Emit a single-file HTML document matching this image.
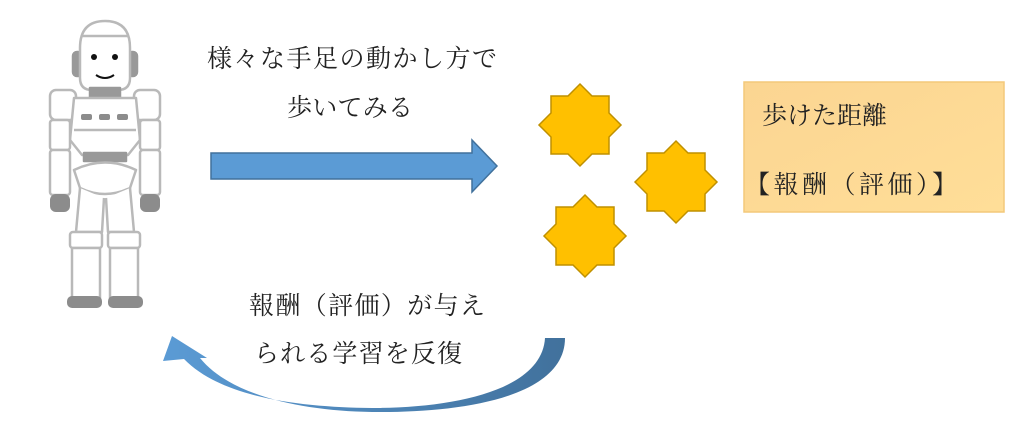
<!DOCTYPE html>
<html><head><meta charset="utf-8"><style>
html,body{margin:0;padding:0;background:#fff;}
svg{display:block}
text{font-family:"Liberation Serif","Noto Serif CJK SC",serif;fill:#222;font-size:25px;}
</style></head><body>
<svg width="1024" height="424" viewBox="0 0 1024 424" xmlns="http://www.w3.org/2000/svg">
<defs>
<linearGradient id="bx" x1="0" y1="0" x2="1" y2="1"><stop offset="0" stop-color="#FBD592"/><stop offset="1" stop-color="#FFDE98"/></linearGradient>
<linearGradient id="ca" x1="0" y1="0" x2="1" y2="0"><stop offset="0" stop-color="#5B9BD5"/><stop offset="1" stop-color="#41719C"/></linearGradient>
</defs>
<!-- robot -->
<g stroke="#b9b9b9" stroke-width="2.5" fill="#fff" stroke-linejoin="round">
<rect x="73" y="52" width="9" height="24" rx="4" fill="#999" stroke="#999"/>
<rect x="128" y="52" width="9" height="24" rx="4" fill="#999" stroke="#999"/>
<path d="M80 48 Q80 21 105 21 Q130 21 130 48 L130 78 Q130 90 118 90 L92 90 Q80 90 80 78 Z"/>
<line x1="82" y1="36" x2="128" y2="36"/>
<rect x="90" y="88" width="30" height="10" fill="#999" stroke="#999"/>
<rect x="50" y="90" width="26" height="30" rx="6"/>
<rect x="134" y="90" width="26" height="30" rx="6"/>
<path d="M74 98 L136 98 L140 140 L128 155 L82 155 L70 140 Z"/>
<line x1="74" y1="130" x2="136" y2="130"/>
<rect x="50" y="120" width="20" height="30" rx="3"/>
<rect x="140" y="120" width="20" height="30" rx="3"/>
<rect x="50" y="150" width="20" height="45" rx="3"/>
<rect x="140" y="150" width="20" height="45" rx="3"/>
<rect x="84" y="153" width="42" height="8" fill="#999" stroke="#999"/>
<path d="M74 170 Q105 155 136 170 L130 188 Q105 200 80 188 Z"/>
<path d="M80 188 L76 232 L102 232 L104 198 M130 188 L134 232 L108 232 L106 198"/>
<rect x="70" y="232" width="32" height="16" rx="3"/>
<rect x="108" y="232" width="32" height="16" rx="3"/>
<rect x="72" y="248" width="28" height="50"/>
<rect x="110" y="248" width="28" height="50"/>
</g>
<g fill="#8c8c8c">
<rect x="50" y="194" width="20" height="18" rx="6"/><rect x="140" y="194" width="20" height="18" rx="6"/>
<rect x="67" y="296" width="35" height="12" rx="5"/><rect x="108" y="296" width="35" height="12" rx="5"/>
<rect x="81" y="114" width="11" height="6" rx="2"/><rect x="99" y="114" width="11" height="6" rx="2"/><rect x="117" y="114" width="11" height="6" rx="2"/>
</g>
<circle cx="94" cy="57" r="3" fill="#111"/><circle cx="115" cy="57" r="3" fill="#111"/>
<path d="M96 75 Q105 81 114 75" stroke="#111" stroke-width="2" fill="none"/>

<!-- texts -->
<text x="207" y="67" textLength="290">様々な手足の動かし方で</text>
<text x="287" y="116" textLength="126">歩いてみる</text>
<text x="249" y="314" textLength="236">報酬（評価）が与え</text>
<text x="254" y="362" textLength="208">られる学習を反復</text>

<!-- straight arrow -->
<path d="M211 153 L472 153 L472 140 L497 166 L472 192 L472 179 L211 179 Z" fill="#5B9BD5" stroke="#41719C" stroke-width="1.5"/>

<!-- curved arrow -->
<path d="M545 338 L565 338 C565 398 460 413 372 412 C300 411 230 395 200 358 L207 358 L172 336 L163 361 L184 359 C222 398 300 407 372 408 C455 408 542 390 545 338 Z" fill="url(#ca)"/>

<!-- stars -->
<g fill="#FFC000" stroke="#BF9000" stroke-width="1.5">
<polygon points="580,84 592,96 609,96 609,113 621,125 609,137 609,154 592,154 580,166 568,154 551,154 551,137 539,125 551,113 551,96 568,96"/>
<polygon points="676,141 688,153 705,153 705,170 717,182 705,194 705,211 688,211 676,223 664,211 647,211 647,194 635,182 647,170 647,153 664,153"/>
<polygon points="585,195 597,207 614,207 614,224 626,236 614,248 614,265 597,265 585,277 573,265 556,265 556,248 544,236 556,224 556,207 573,207"/>
</g>

<!-- box -->
<rect x="744" y="82" width="260" height="130" fill="url(#bx)" stroke="#F3C97A" stroke-width="1.5"/>
<text x="762" y="124" font-size="24">歩けた距離</text>
<text x="745" y="193" font-size="26" textLength="212">【報酬（評価）】</text>
</svg>
</body></html>
